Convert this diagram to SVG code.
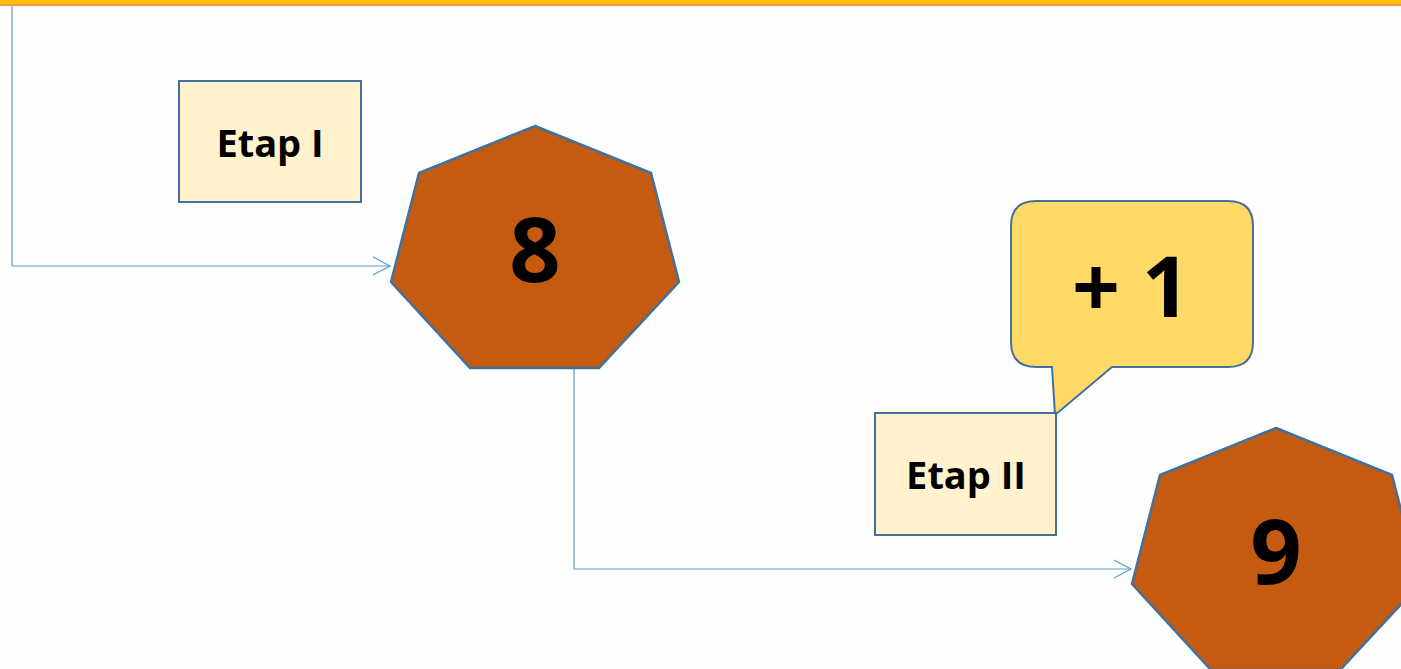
<svg xmlns="http://www.w3.org/2000/svg" width="1401" height="669" viewBox="0 0 1401 669">
<style>
.lbl{font-family:"Open Sans","Liberation Sans",sans-serif;font-weight:bold;fill:#000;text-anchor:middle}
.box{fill:#FFF2CC;stroke:#41719C;stroke-width:2}
.hept{fill:#C55A11;stroke:#41719C;stroke-width:2.5}
.conn{fill:none;stroke:#5B9BD5;stroke-width:1.2}
</style>
<defs>
<marker id="arr" markerUnits="userSpaceOnUse" markerWidth="20" markerHeight="22" refX="18" refY="10" orient="auto">
<path d="M1,1 L18,10 L1,19" fill="none" stroke="#5B9BD5" stroke-width="1.2"/>
</marker>
</defs>
<rect width="1401" height="669" fill="#FEFEFE"/>
<rect x="0" y="0" width="1401" height="4" fill="#FFC000"/>
<rect x="0" y="4" width="1401" height="2" fill="#F79646"/>
<g id="connectors">
<path class="conn" d="M12,6 V266 H390" marker-end="url(#arr)"/>
<path class="conn" d="M574,369 V569 H1131" marker-end="url(#arr)"/>
</g>
<g id="etap1">
<rect class="box" x="179" y="81" width="182" height="121"/>
<text class="lbl" x="270" y="157" font-size="38">Etap I</text>
</g>
<g id="node8">
<polygon class="hept" points="535,126 651,173 679,282 599,368 470,368 391,282 419,173"/>
<text class="lbl" x="535" y="282" font-size="90">8</text>
</g>
<g id="callout">
<path d="M1036,201 H1228 Q1253,201 1253,226 V342 Q1253,367 1228,367 H1112 L1055,415 L1052,367 H1036 Q1011,367 1011,342 V226 Q1011,201 1036,201 Z" fill="#FFD966" stroke="#41719C" stroke-width="2"/>
<text class="lbl" x="1131" y="317" font-size="84">+ 1</text>
</g>
<g id="etap2">
<rect class="box" x="875" y="413" width="181" height="122"/>
<text class="lbl" x="966" y="489" font-size="38">Etap II</text>
</g>
<g id="node9">
<polygon class="hept" points="1276,428 1392,475 1420,584 1340,670 1211,670 1132,584 1160,475"/>
<text class="lbl" x="1276" y="584" font-size="90">9</text>
</g>
</svg>
